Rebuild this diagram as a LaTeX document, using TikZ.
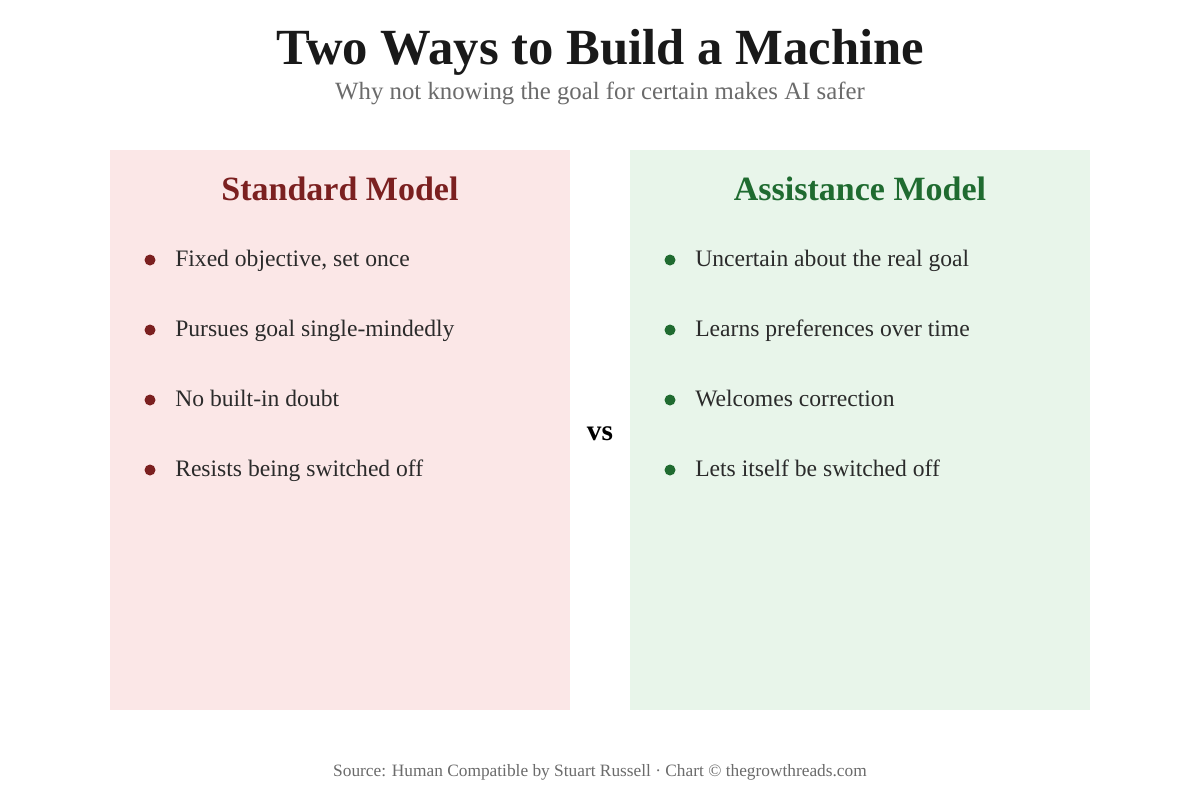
\documentclass[tikz,border=0pt]{standalone}
\usepackage{fontspec}
\setmainfont{Liberation Serif}
\definecolor{redd}{HTML}{7B2020}
\definecolor{grn}{HTML}{1F6B30}
\definecolor{pinkbg}{HTML}{FBE7E7}
\definecolor{grnbg}{HTML}{E8F5EA}
\definecolor{txt}{HTML}{2B2B2B}
\definecolor{gr}{HTML}{6B6B6B}
\begin{document}
\begin{tikzpicture}[x=0.75pt,y=-0.75pt,
  item/.style={anchor=base west,text=txt,font=\fontsize{17.7}{20}\selectfont,inner sep=0},
  head/.style={anchor=base,font=\fontsize{25.5}{30}\selectfont\bfseries,inner sep=0}]
\useasboundingbox (0,0) rectangle (1200,800);
\fill[white] (0,0) rectangle (1200,800);
\node[anchor=base,inner sep=0,font=\fontsize{38}{44}\selectfont\bfseries,text=black!90] (title) at (600,64) {Two Ways to Build a Machine};
\node[anchor=base,inner sep=0,font=\fontsize{18.6}{22}\selectfont,text=gr] (sub) at (600,99) {Why not knowing the goal for certain makes AI safer};
\fill[pinkbg] (110,150) rectangle (570,710);
\fill[grnbg] (630,150) rectangle (1090,710);
\node[head,text=redd] (lh) at (340,200) {Standard Model};
\node[head,text=grn] (rh) at (860,200) {Assistance Model};
\foreach \y/\t [count=\i] in {260/{Fixed objective, set once},330/{Pursues goal single-mindedly},400/{No built-in doubt},470/{Resists being switched off}}{
  \fill[redd] (150,\y) circle (5.5);
  \node[item] (l\i) at (175,\y+6) {\t};
}
\foreach \y/\t [count=\i] in {260/{Uncertain about the real goal},330/{Learns preferences over time},400/{Welcomes correction},470/{Lets itself be switched off}}{
  \fill[grn] (670,\y) circle (5.5);
  \node[item] (r\i) at (695,\y+6) {\t};
}
\node[anchor=base,inner sep=0,font=\fontsize{22}{26}\selectfont\bfseries] (vs) at (600,440) {vs};
\node[anchor=base,inner sep=0,font=\fontsize{13}{15}\selectfont,text=gr] (foot) at (600,776) {Source: Human Compatible by Stuart Russell · Chart © thegrowthreads.com};
\end{tikzpicture}
\end{document}
